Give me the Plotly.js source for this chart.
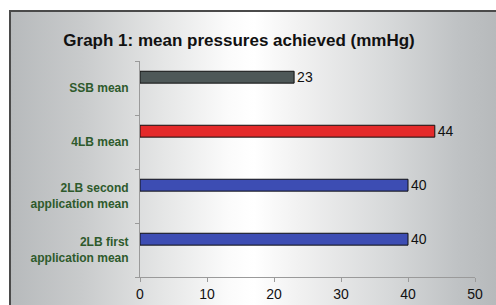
<!DOCTYPE html>
<html>
<head>
<meta charset="utf-8">
<script src="https://cdn.plot.ly/plotly-3.0.1.min.js"></script>
<style>
  html { margin: 0; padding: 0; background: #ffffff; overflow: hidden; }
  body { margin: 0; padding: 0; background: transparent; overflow: hidden; }
  #wrap { position: relative; width: 496px; height: 305px; background: #ffffff; }
  #frame {
    position: absolute; left: 9px; top: 10px; width: 520px; height: 320px;
    border-left: 2px solid #4a4a4a; border-top: 2px solid #4a4a4a;
    background: linear-gradient(to right, #b7babc 0px, #c9cbcc 72px, #e6e7e7 155px, #fbfbfb 218px, #ffffff 243px, #f0f0f0 292px, #d6d8d9 380px, #bfc2c4 447px, #b6b9bb 487px, #b6b9bb 520px);
  }
  #chart { position: absolute; left: 0; top: 0; width: 496px; height: 305px; }
</style>
</head>
<body>
<div id="wrap">
  <div id="frame"></div>
  <div id="chart"></div>
</div>
<script>
  // Data (bottom to top)
  const categories = [
    "2LB first<br>application mean",
    "2LB second<br>application mean",
    "4LB mean",
    "SSB mean"
  ];
  const values = [40, 40, 44, 23];
  const barColors = ["#3d4db3", "#3d4db3", "#e42a2a", "#4e5858"];
  const xTickValues = [0, 10, 20, 30, 40, 50];

  const FONT = "Arial, Liberation Sans, sans-serif";

  const trace = {
    type: "bar",
    orientation: "h",
    y: categories,
    x: values,
    width: 0.22,
    offset: 0.09,
    marker: { color: barColors, line: { color: "#111111", width: 1 } },
    text: values.map(String),
    textposition: "outside",
    constraintext: "none",
    textfont: { family: FONT, size: 14, color: "#111111" },
    cliponaxis: false,
    hoverinfo: "none"
  };

  const layout = {
    width: 496,
    height: 305,
    margin: { l: 140, r: 21, t: 61, b: 28 },
    paper_bgcolor: "rgba(0,0,0,0)",
    plot_bgcolor: "rgba(0,0,0,0)",
    showlegend: false,
    font: { family: FONT },
    title: {
      text: "<b>Graph 1: mean pressures achieved (mmHg)</b>",
      font: { family: FONT, size: 17, color: "#111111" },
      xref: "container", x: 0.482, xanchor: "center",
      yref: "container", y: 0.869, yanchor: "middle"
    },
    xaxis: {
      range: [0, 50],
      tickvals: xTickValues,
      ticktext: xTickValues.map(String),
      showgrid: false,
      zeroline: false,
      showline: true,
      linecolor: "#9a9a9a",
      linewidth: 1,
      ticks: "outside",
      ticklen: 4,
      tickcolor: "#9a9a9a",
      tickfont: { family: FONT, size: 14, color: "#111111" },
      fixedrange: true
    },
    yaxis: {
      type: "category",
      categoryorder: "array",
      categoryarray: categories,
      range: [-0.5, 3.5],
      showgrid: false,
      zeroline: false,
      showline: true,
      linecolor: "#9a9a9a",
      linewidth: 1,
      ticks: "outside",
      tickson: "boundaries",
      ticklen: 4,
      tickcolor: "#9a9a9a",
      ticklabelstandoff: 8,
      tickfont: { family: FONT, size: 12, color: "#2e5a2c", weight: "bold" },
      fixedrange: true
    }
  };

  Plotly.newPlot("chart", [trace], layout, { displayModeBar: false, staticPlot: true });
</script>
</body>
</html>
